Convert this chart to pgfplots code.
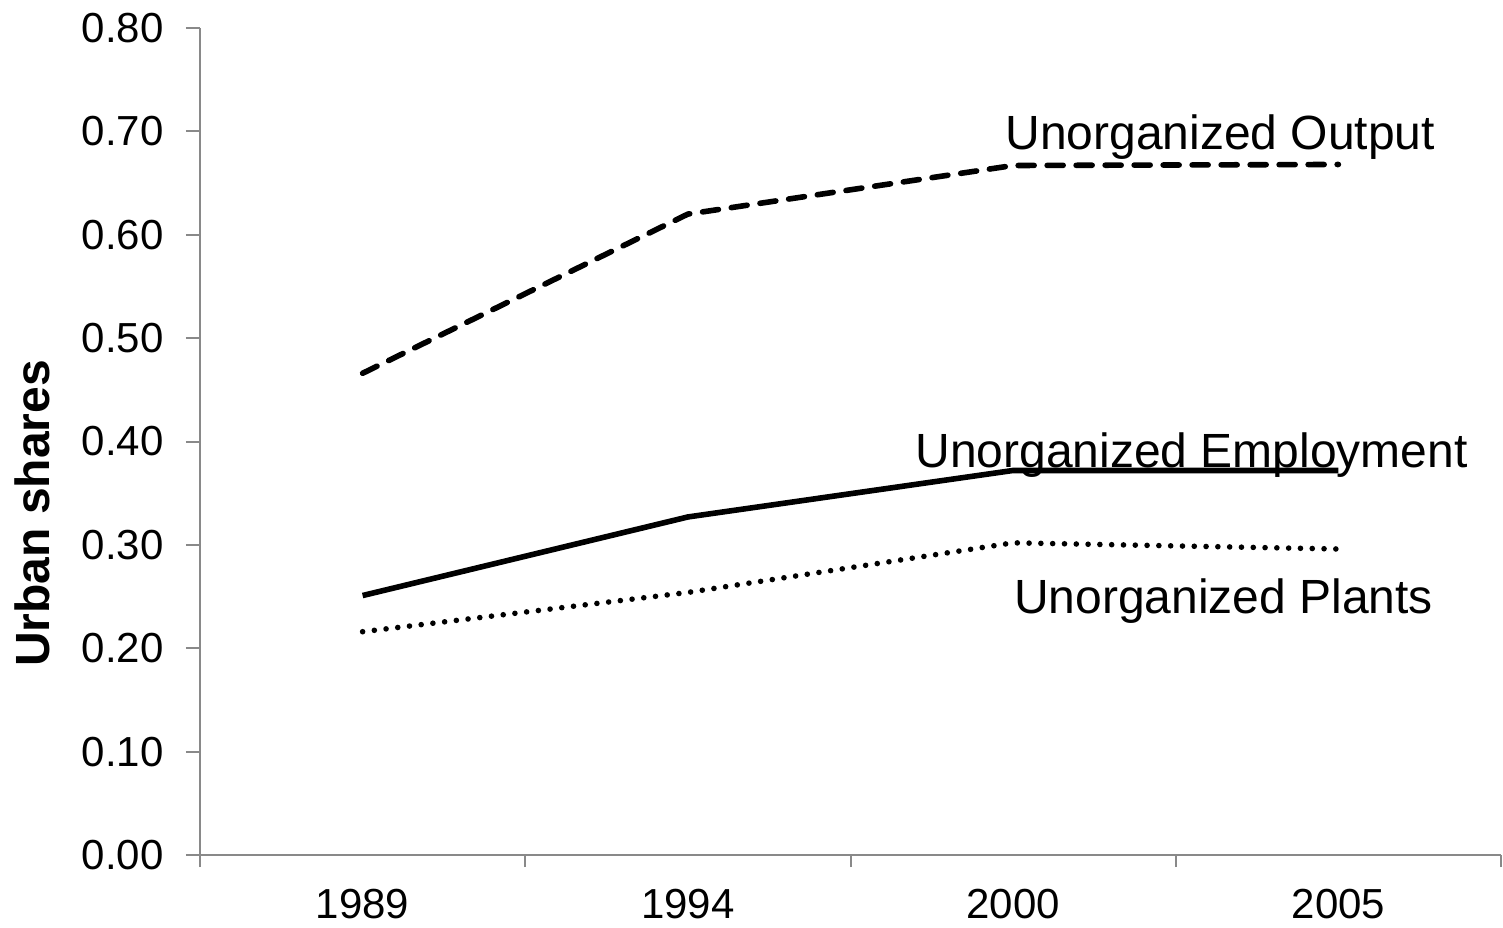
\documentclass[border=0pt]{standalone}
\usepackage{fontspec}
\setmainfont{Liberation Sans}
\usepackage{pgfplots}
\pgfplotsset{compat=1.18}
\definecolor{axgray}{RGB}{137,137,137}
\begin{document}
\begin{tikzpicture}
\begin{axis}[
  scale only axis, width=650.5pt, height=413.5pt,
  xmin=-0.5, xmax=3.5, ymin=0, ymax=0.8,
  axis x line*=bottom, axis y line*=left,
  axis line style={draw=axgray, line width=1pt},
  tick align=outside,
  xtick={0,1,2,3}, xticklabels={1989,1994,2000,2005},
  xtick style={draw=none},
  minor xtick={-0.5,0.5,1.5,2.5,3.5},
  minor x tick style={draw=axgray, line width=1pt},
  minor tick length=6pt,
  major tick length=7pt,
  ytick={0,0.1,0.2,0.3,0.4,0.5,0.6,0.7,0.8},
  ytick style={draw=axgray, line width=1pt},
  /pgf/number format/fixed,
  /pgf/number format/fixed zerofill,
  /pgf/number format/precision=2,
  /pgf/number format/assume math mode=true,
  ticklabel style={font=\fontsize{21}{25}\selectfont, inner sep=0pt},
  yticklabel style={anchor=east, xshift=-11pt},
  xticklabel style={anchor=north, yshift=-10pt},
  ylabel={\textbf{Urban shares}},
  ylabel style={font=\fontsize{24}{28}\selectfont, at={(rel axis cs:0,0.413)}, anchor=center, inner sep=0pt, yshift=83.75pt},
  clip=false,
  every axis plot/.append style={line width=2.8pt, black},
]
\coordinate (bl) at (rel axis cs:0,0);
\addplot[dash pattern=on 8pt off 6.5pt, line cap=round] coordinates {(0,0.466) (1,0.620) (2,0.667) (3,0.668)};
\addplot[line join=round] coordinates {(0,0.251) (1,0.327) (2,0.372) (3,0.372)};
\addplot[dash pattern=on 0pt off 5.9pt, line cap=round] coordinates {(0,0.216) (1,0.254) (2,0.302) (3,0.296)};
\node[anchor=base, font=\fontsize{24}{28}\selectfont, inner sep=0pt] at (axis cs:2.637,0.682) {Unorganized Output};
\node[anchor=base, font=\fontsize{24}{28}\selectfont, inner sep=0pt] at (axis cs:2.549,0.375) {Unorganized Employment};
\node[anchor=base, font=\fontsize{24}{28}\selectfont, inner sep=0pt] at (axis cs:2.647,0.234) {Unorganized Plants};
\end{axis}
\pgfresetboundingbox
\path (bl) ++(-100pt,-36pt) rectangle ++(751.5pt,463.5pt);
\end{tikzpicture}
\end{document}
